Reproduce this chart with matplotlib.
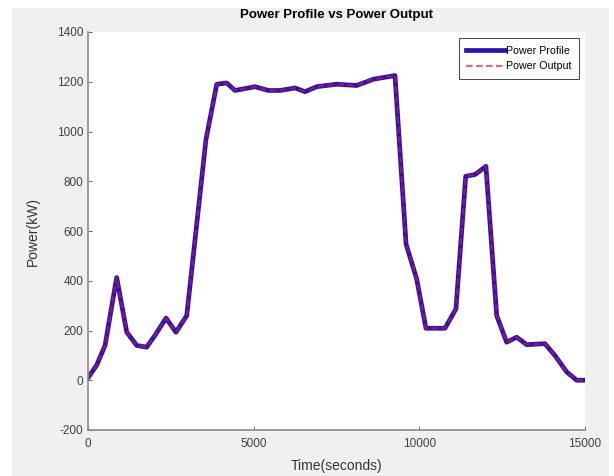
import matplotlib
matplotlib.use('Agg')
import matplotlib.pyplot as plt
from matplotlib.patches import Rectangle

# values
time_s = [0, 260, 515, 865, 1170, 1470, 1770, 2020, 2355, 2655, 2980, 3560,
          3885, 4185, 4435, 5040, 5440, 5795, 6250, 6550, 6900, 7505, 8110,
          8610, 9265, 9600, 9920, 10200, 10775, 11105, 11400, 11680, 12010,
          12335, 12635, 12940, 13240, 13790, 14090, 14450, 14750, 15000]
power_kw = [10, 60, 140, 413, 193, 140, 133, 180, 250, 193, 260, 967,
            1190, 1195, 1165, 1180, 1165, 1165, 1175, 1160, 1180, 1190, 1185,
            1210, 1225, 547, 407, 209, 209, 287, 820, 827, 860,
            260, 153, 173, 143, 147, 100, 33, 0, 0]
power_out = list(power_kw)

x_ticks = [0, 5000, 10000, 15000]
y_ticks = [-200, 0, 200, 400, 600, 800, 1000, 1200, 1400]

plt.rcParams['font.family'] = ['Liberation Sans', 'DejaVu Sans']
plt.rcParams['axes.unicode_minus'] = False

fig = plt.figure(figsize=(6.14, 4.76), dpi=100, facecolor='white')
# MATLAB-style grey figure panel inside a thin white border
fig.patches.append(Rectangle((12 / 614, 0), 597 / 614, 468 / 476,
                             transform=fig.transFigure, facecolor='#f0f0f0',
                             edgecolor='none', zorder=-10))

ax = fig.add_axes([88 / 614, 46 / 476, 497 / 614, 398 / 476])
ax.set_facecolor('white')

ax.plot(time_s, power_kw, color='#2c10b8', lw=3.4, label='Power Profile')
ax.plot(time_s, power_out, color='#c8203c', lw=1.6, ls=(0, (3, 1.5)),
        alpha=0.65, label='Power Output')

ax.set_xlim(0, 15000)
ax.set_ylim(-200, 1400)
ax.set_xticks(x_ticks)
ax.set_yticks(y_ticks)
ax.tick_params(direction='in', length=3, labelsize=8.5, colors='#555555',
               labelcolor='#404040', width=0.6)
ax.tick_params(axis='x', pad=6)
for s in ['top', 'right']:
    ax.spines[s].set_visible(False)
for s in ['left', 'bottom']:
    ax.spines[s].set_color('#8a8a8a')
    ax.spines[s].set_linewidth(1.2)

ax.set_title('Power Profile vs Power Output', fontsize=9.5, fontweight='bold',
             pad=10)
ax.set_xlabel('Time(seconds)', fontsize=10, labelpad=6, color='#333333')
ax.set_ylabel('Power(kW)', fontsize=10, labelpad=12, color='#333333')

leg = ax.legend(loc='upper right', fontsize=7.7, frameon=True, fancybox=False,
                handlelength=3.6, handletextpad=0.1, borderpad=0.7,
                labelspacing=0.5, borderaxespad=0.6)
leg.get_frame().set_edgecolor('#262626')
leg.get_frame().set_linewidth(0.6)
leg.get_frame().set_alpha(1)

fig.savefig('out.png', dpi=100, facecolor=fig.get_facecolor())
